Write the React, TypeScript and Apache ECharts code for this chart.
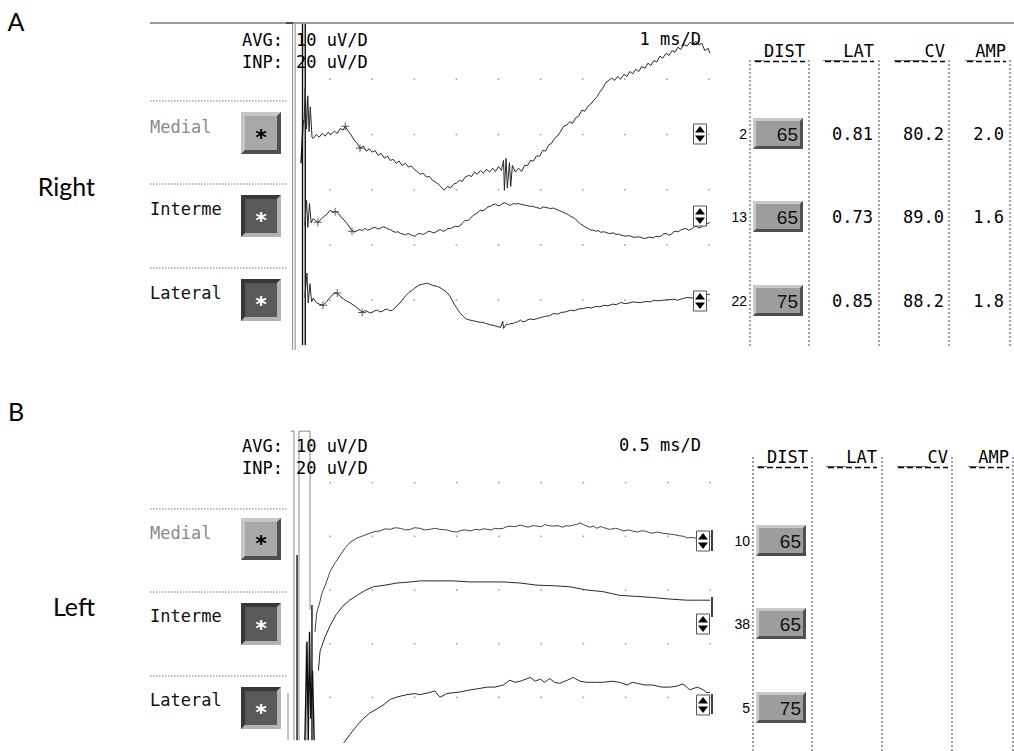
import React, { useEffect, useRef } from "react";
import * as echarts from "echarts";

// ---------------- data ----------------
const panelLetters = ["A", "B"];
const sideNames = ["Right", "Left"];
const channelNames = ["Medial", "Interme", "Lateral"];
const gainLabels = ["AVG:", "INP:"];
const gainValues = ["10 uV/D", "20 uV/D"];
const sweepLabels = ["1 ms/D", "0.5 ms/D"];
const sweepSpanMs = [10, 5]; // 10 divisions per sweep
const uvPerDiv = 10;
const tableHeaders = ["_DIST", "__LAT", "___CV", "_AMP"];

const rightIndex = [2, 13, 22];
const rightDist = [65, 65, 75];
const rightLat = ["0.81", "0.73", "0.85"];
const rightCv = ["80.2", "89.0", "88.2"];
const rightAmp = ["2.0", "1.6", "1.8"];
const leftIndex = [10, 38, 5];
const leftDist = [65, 65, 75];

// trace baselines in screen divisions (0 = bottom, 6 = top)
const rightBaselineDiv = [4, 2.5, 1];
const leftBaselineDiv = [4, 3, 1];

// traces: [time ms, amplitude uV]
const rightMedialTrace = [
  [0.38, 2.0], [0.41, 8.5], [0.44, 1.0], [0.47, 7.0], [0.5, 0.5], [0.53, 5.0], [0.57, -0.5],
  [0.6, -0.7], [0.67, 0.0], [0.74, -0.5], [0.81, 0.2], [0.88, -0.3], [0.95, 0.4], [1.02, 0.0], [1.1, 0.6],
  [1.17, 0.2], [1.24, 1.1], [1.31, 0.8], [1.36, 1.5], [1.43, 0.6], [1.5, -0.1], [1.57, -1.0], [1.64, -1.6],
  [1.71, -2.5], [1.79, -2.1], [1.86, -3.0], [1.93, -2.6], [2.0, -3.2], [2.07, -2.9], [2.14, -3.8], [2.21, -3.4],
  [2.29, -4.3], [2.36, -3.9], [2.43, -4.7], [2.5, -4.5], [2.57, -5.2], [2.64, -4.8], [2.71, -5.6], [2.79, -5.2],
  [2.86, -5.9], [2.93, -5.7], [3.0, -6.3], [3.07, -6.7], [3.14, -7.2], [3.21, -7.0], [3.29, -7.7], [3.36, -7.6],
  [3.43, -8.3], [3.5, -8.6], [3.57, -9.0], [3.64, -9.5], [3.71, -10.1], [3.79, -9.4], [3.86, -9.7], [3.93, -9.0],
  [4.0, -8.8], [4.07, -8.3], [4.14, -8.5], [4.21, -7.7], [4.29, -7.4], [4.36, -7.6], [4.43, -6.8], [4.5, -7.2],
  [4.57, -6.5], [4.64, -7.0], [4.71, -6.3], [4.79, -6.8], [4.86, -6.1], [4.93, -6.7], [5.0, -5.8], [5.07, -6.5],
  [5.12, -4.7], [5.14, -10.1], [5.18, -4.3], [5.21, -9.7], [5.26, -5.1], [5.29, -9.4], [5.33, -5.6], [5.4, -6.8],
  [5.48, -6.1], [5.55, -6.7], [5.62, -5.6], [5.69, -5.6], [5.76, -4.7], [5.83, -4.8], [5.9, -3.9], [5.98, -3.9],
  [6.05, -2.9], [6.12, -3.0], [6.19, -1.9], [6.26, -1.6], [6.33, -0.7], [6.4, -0.3], [6.48, 0.6], [6.55, 1.5],
  [6.62, 1.7], [6.69, 2.3], [6.76, 2.0], [6.83, 3.0], [6.9, 3.3], [6.98, 4.4], [7.05, 4.2], [7.12, 5.1],
  [7.19, 5.5], [7.26, 6.2], [7.33, 6.7], [7.4, 7.6], [7.48, 8.4], [7.55, 9.4], [7.62, 9.8], [7.69, 10.2],
  [7.76, 9.8], [7.83, 10.5], [7.9, 10.0], [7.98, 10.9], [8.05, 10.5], [8.12, 11.4], [8.19, 11.0], [8.26, 11.8],
  [8.33, 11.4], [8.4, 12.3], [8.48, 12.0], [8.55, 12.9], [8.62, 12.5], [8.69, 13.4], [8.76, 13.1], [8.83, 14.2],
  [8.9, 13.8], [8.98, 14.7], [9.05, 14.3], [9.12, 15.2], [9.19, 14.9], [9.26, 15.8], [9.33, 15.4], [9.4, 16.3],
  [9.48, 16.0], [9.55, 16.7], [9.62, 16.3], [9.69, 16.9], [9.76, 16.2], [9.83, 16.5], [9.9, 15.2], [9.98, 15.6],
  [10.02, 14.7],
];
const rightIntermeTrace = [
  [0.4, -1.5], [0.44, 3.1], [0.47, -1.8], [0.51, 2.5], [0.55, -1.0], [0.6, -0.2], [0.67, -0.7], [0.71, -0.9],
  [0.79, -0.3], [0.86, 0.2], [0.93, 0.6], [1.0, 1.3], [1.07, 0.9], [1.14, 1.1], [1.21, 0.6], [1.29, -0.2],
  [1.36, -0.7], [1.43, -1.4], [1.5, -2.2], [1.57, -2.7], [1.64, -2.4], [1.71, -2.2], [1.77, -2.4], [1.83, -2.0],
  [1.89, -2.3], [1.95, -2.2], [2.01, -1.9], [2.07, -1.8], [2.13, -2.1], [2.19, -2.0], [2.25, -1.7], [2.31, -1.8],
  [2.37, -2.1], [2.43, -2.2], [2.49, -2.5], [2.55, -2.7], [2.61, -2.6], [2.67, -2.9], [2.73, -3.0], [2.79, -3.2],
  [2.85, -2.9], [2.9, -3.1], [2.96, -3.3], [3.02, -3.4], [3.08, -3.0], [3.14, -2.9], [3.2, -3.1], [3.26, -2.9],
  [3.32, -2.6], [3.38, -2.5], [3.44, -2.8], [3.5, -2.7], [3.56, -2.4], [3.62, -2.2], [3.68, -2.5], [3.74, -2.4],
  [3.8, -2.0], [3.86, -2.0], [3.92, -1.8], [3.98, -1.6], [4.04, -1.7], [4.1, -1.4], [4.16, -0.9], [4.21, -0.5],
  [4.27, -0.6], [4.33, -0.2], [4.39, 0.3], [4.45, 0.6], [4.51, 0.9], [4.57, 1.3], [4.63, 1.2], [4.69, 1.5],
  [4.75, 1.9], [4.81, 2.0], [4.87, 2.3], [4.93, 2.4], [4.99, 2.1], [5.05, 2.2], [5.11, 2.6], [5.17, 2.6],
  [5.23, 2.3], [5.29, 2.2], [5.35, 2.5], [5.4, 2.4], [5.46, 2.5], [5.52, 2.4], [5.58, 2.3], [5.64, 2.2],
  [5.7, 2.1], [5.76, 2.0], [5.82, 2.0], [5.88, 1.8], [5.94, 1.7], [6.0, 1.6], [6.06, 1.9], [6.12, 1.8],
  [6.18, 1.7], [6.24, 1.6], [6.3, 1.7], [6.36, 1.5], [6.42, 1.3], [6.48, 1.1], [6.54, 0.9], [6.6, 0.7],
  [6.66, 0.5], [6.71, 0.2], [6.77, 0.0], [6.83, -0.3], [6.89, -0.8], [6.95, -1.2], [7.01, -1.5], [7.07, -1.8],
  [7.13, -2.0], [7.19, -2.3], [7.25, -2.3], [7.31, -2.5], [7.37, -2.4], [7.43, -2.7], [7.49, -2.6], [7.55, -2.7],
  [7.61, -2.9], [7.67, -2.9], [7.73, -2.8], [7.79, -3.1], [7.85, -3.0], [7.9, -3.2], [7.96, -3.3], [8.02, -3.4],
  [8.08, -3.3], [8.14, -3.4], [8.2, -3.6], [8.26, -3.6], [8.32, -3.5], [8.38, -3.6], [8.44, -3.8], [8.5, -3.8],
  [8.56, -3.6], [8.62, -3.6], [8.68, -3.7], [8.74, -3.4], [8.8, -3.5], [8.86, -3.4], [8.92, -3.0], [8.98, -2.9],
  [9.04, -3.2], [9.1, -3.1], [9.16, -2.6], [9.21, -2.5], [9.27, -2.6], [9.33, -2.3], [9.39, -2.1], [9.45, -2.0],
  [9.51, -2.3], [9.57, -2.2], [9.63, -1.8], [9.69, -1.6], [9.75, -1.9], [9.81, -1.8], [9.87, -1.4], [9.93, -1.3],
  [10.02, -0.9],
];
const rightLateralTrace = [
  [0.4, 0.5], [0.45, 4.9], [0.48, -0.5], [0.52, 3.0], [0.56, -0.3], [0.6, 0.4], [0.67, -0.4], [0.74, -0.7],
  [0.83, -0.9], [0.9, -0.4], [1.0, 0.5], [1.1, 1.3], [1.17, 1.3], [1.24, 0.7], [1.36, 0.0], [1.48, -0.5],
  [1.6, -1.1], [1.71, -1.8], [1.76, -2.2], [1.82, -1.9], [1.88, -2.0], [1.94, -2.3], [2.0, -2.2], [2.06, -1.9],
  [2.12, -1.8], [2.18, -2.1], [2.24, -2.0], [2.3, -1.7], [2.36, -1.6], [2.42, -1.9], [2.48, -1.8], [2.54, -1.4],
  [2.6, -0.9], [2.66, -0.5], [2.71, 0.0], [2.77, 0.6], [2.83, 1.1], [2.89, 1.5], [2.95, 1.8], [3.01, 2.2],
  [3.07, 2.5], [3.13, 2.8], [3.19, 2.9], [3.25, 3.0], [3.31, 3.1], [3.37, 2.9], [3.43, 2.7], [3.49, 2.6],
  [3.55, 2.5], [3.61, 2.3], [3.67, 2.0], [3.73, 1.7], [3.79, 1.3], [3.85, 0.7], [3.9, 0.0], [3.95, -0.7],
  [4.0, -1.3], [4.05, -1.9], [4.1, -2.4], [4.16, -2.9], [4.21, -3.3], [4.27, -3.5], [4.33, -3.6], [4.39, -3.7],
  [4.45, -3.8], [4.51, -3.9], [4.57, -4.0], [4.63, -4.0], [4.69, -4.2], [4.75, -4.3], [4.81, -4.5], [4.87, -4.5],
  [4.93, -4.7], [4.99, -4.8], [5.05, -4.9], [5.1, -3.8], [5.12, -5.1], [5.19, -4.3], [5.24, -4.4], [5.29, -4.2],
  [5.35, -4.2], [5.4, -4.0], [5.46, -3.9], [5.52, -3.6], [5.58, -3.9], [5.64, -3.8], [5.7, -3.5], [5.76, -3.4],
  [5.84, -3.5], [5.93, -3.3], [6.02, -3.1], [6.12, -2.9], [6.21, -2.8], [6.31, -2.4], [6.4, -2.5], [6.5, -2.2],
  [6.6, -2.1], [6.71, -1.8], [6.8, -1.9], [6.9, -1.6], [7.01, -1.5], [7.12, -1.3], [7.21, -1.4], [7.31, -1.1],
  [7.4, -1.2], [7.5, -0.9], [7.6, -1.0], [7.71, -0.7], [7.8, -0.8], [7.9, -0.4], [8.0, -0.6], [8.1, -0.5],
  [8.2, -0.3], [8.31, -0.4], [8.4, -0.4], [8.5, -0.2], [8.6, -0.3], [8.69, 0.0], [8.8, -0.1], [8.9, 0.0],
  [9.05, 0.1], [9.17, 0.2], [9.25, 0.0], [9.33, 0.2], [9.42, 0.4], [9.5, 0.5], [9.6, 0.4], [9.69, 0.7],
  [9.78, 0.6], [9.88, 0.9], [10.02, 1.1],
];

const leftMedialTrace = [
  [0.32, -17.8], [0.34, -14.3], [0.38, -12.1], [0.4, -10.7], [0.44, -9.2], [0.5, -6.5], [0.56, -4.9],
  [0.62, -3.5], [0.68, -2.1], [0.73, -1.2], [0.82, -0.3], [0.89, 0.1], [0.97, 0.6], [1.03, 0.9], [1.09, 1.0],
  [1.15, 1.4], [1.21, 1.3], [1.27, 1.6], [1.33, 1.5], [1.39, 1.2], [1.45, 1.3], [1.5, 1.6], [1.56, 1.5],
  [1.62, 1.2], [1.68, 1.3], [1.74, 1.5], [1.8, 1.3], [1.88, 1.2], [1.94, 0.9], [2.0, 0.8], [2.05, 1.1],
  [2.1, 1.2], [2.16, 1.0], [2.22, 1.3], [2.27, 1.2], [2.32, 1.4], [2.36, 1.3], [2.41, 1.2], [2.45, 1.5],
  [2.5, 1.4], [2.55, 1.5], [2.59, 1.8], [2.63, 1.9], [2.69, 1.8], [2.75, 2.1], [2.8, 1.9], [2.84, 1.7],
  [2.9, 2.0], [2.95, 1.9], [3.0, 1.8], [3.04, 2.2], [3.09, 2.0], [3.14, 1.9], [3.2, 2.0], [3.25, 1.7],
  [3.3, 2.0], [3.34, 1.9], [3.38, 2.1], [3.42, 2.2], [3.46, 2.5], [3.5, 2.2], [3.54, 1.9], [3.58, 1.7],
  [3.62, 1.9], [3.66, 1.5], [3.7, 1.8], [3.73, 1.7], [3.78, 1.4], [3.82, 1.3], [3.88, 1.5], [3.93, 1.3],
  [3.98, 1.0], [4.03, 1.2], [4.08, 1.0], [4.14, 0.8], [4.18, 1.0], [4.23, 1.0], [4.28, 0.7], [4.32, 0.6],
  [4.38, 0.8], [4.43, 0.6], [4.48, 0.5], [4.53, 0.4], [4.58, 0.3], [4.64, 0.1], [4.69, 0.0], [4.73, -0.3],
  [4.79, -0.2], [4.85, -0.4], [4.9, -0.3], [4.94, -0.3], [5.0, -0.4],
];
const leftIntermeTrace = [
  [0.36, -15.0], [0.38, -11.4], [0.44, -8.7], [0.5, -6.6], [0.57, -4.6], [0.65, -3.0], [0.73, -1.9],
  [0.82, -1.0], [0.91, -0.1], [1.01, 0.6], [1.15, 0.9], [1.29, 1.3], [1.45, 1.5], [1.56, 1.7], [1.77, 1.7],
  [1.95, 1.7], [2.16, 1.5], [2.36, 1.5], [2.55, 1.5], [2.75, 1.3], [2.95, 0.9], [3.14, 0.8], [3.34, 0.6],
  [3.54, 0.0], [3.73, -0.3], [3.93, -1.0], [4.14, -1.2], [4.32, -1.4], [4.53, -1.7], [4.73, -1.9],
  [4.88, -1.9], [5.0, -1.9],
];
const leftLateralTrace = [
  [0.66, -8.5], [0.73, -7.0], [0.81, -5.4], [0.89, -4.0], [0.97, -2.9], [1.05, -2.2], [1.14, -1.3],
  [1.21, -0.4], [1.3, 0.1], [1.41, 0.5], [1.5, 0.7], [1.56, 0.5], [1.68, 0.9], [1.74, 1.2], [1.8, 0.0],
  [1.88, 0.7], [1.98, 0.9], [2.04, 1.0], [2.16, 1.4], [2.25, 1.6], [2.36, 1.9], [2.45, 1.9], [2.55, 2.3],
  [2.63, 3.2], [2.69, 2.8], [2.75, 3.0], [2.87, 3.7], [2.93, 3.0], [2.99, 3.4], [3.04, 2.8], [3.1, 3.5],
  [3.16, 2.8], [3.22, 2.6], [3.31, 3.2], [3.38, 3.7], [3.46, 3.0], [3.54, 2.8], [3.64, 2.8], [3.73, 2.8],
  [3.84, 3.0], [3.93, 2.8], [4.02, 2.3], [4.08, 2.8], [4.14, 2.6], [4.23, 2.3], [4.32, 2.3], [4.43, 1.9],
  [4.53, 1.9], [4.61, 2.1], [4.68, 2.5], [4.76, 1.4], [4.85, 1.9], [4.92, 1.4], [4.96, 0.9], [5.0, 0.9],
];

// latency cursors on the right-side traces: [time ms, uV]
const rightCursors = [
  [[1.36, 1.5], [1.71, -2.5]],
  [[0.71, -0.9], [1.12, 1.0], [1.52, -2.5]],
  [[0.83, -0.9], [1.17, 1.3], [1.76, -2.2]],
];

// stimulus artefact / cursor segments: [time ms, division]
const rightStimGray = [
  [[0.11, 6], [0.11, 0.1]],
  [[0.17, 6], [0.17, 0.1]],
];
const rightStimBlack = [
  [[0.345, 6], [0.345, 0.19]],
  [[0.41, 6], [0.41, 0.19]],
  [[0.36, 4.26], [0.31, 3.48]],
];
const leftStimGray = [
  [[0.03, 5.96], [0.071, 5.96], [0.071, 0.2]],
  [[0.13, 0.2], [0.13, 5.96], [0.261, 5.96], [0.261, 2.63]],
  [[0.0, 1.08], [0.0, 0.2]],
  [[0.215, 2.0], [0.215, 0.2]],
];
const leftStimBlack = [
  [[0.107, 3.65], [0.107, 0.2]],
  [[0.284, 2.72], [0.284, 0.2]],
  [[0.2, 0.2], [0.225, 2.04], [0.24, 0.2], [0.255, 2.22], [0.27, 0.6], [0.29, 1.5], [0.31, 0.2]],
];

// ---------------- layout ----------------
const MONO = "DejaVu Sans Mono";
const SANS = "Liberation Sans";
const GRIDS = [
  { left: 288, top: 24, width: 421, height: 331.5 },
  { left: 288, top: 429, width: 422, height: 334.5 },
];
const PANELS = [
  {
    oy: 0, tx: 0, letterY: 21, sideY: 186, tableTop: 60, tableBottom: 346,
    rows: [133, 216, 300], btnTops: [112, 195, 279], seps: [101, 184, 268], labelYs: [127, 209, 293],
    spinX: 700, spinYs: [134, 216, 301],
  },
  {
    oy: 406, tx: 3, letterY: 411, sideY: 606, tableTop: 457, tableBottom: 751,
    rows: [540, 623, 707], btnTops: [518, 603, 687], seps: [509, 592, 676], labelYs: [533, 616, 700],
    spinX: 703, spinYs: [541, 624, 705],
  },
];

function txt(x: number, y: number, text: string, font: string, fill = "#000", align = "left", va = "middle") {
  return {
    type: "text", x, y, silent: true, z: 10,
    style: { text, font, fill, align, verticalAlign: va, textAlign: align, textVerticalAlign: va },
  };
}
function line(x1: number, y1: number, x2: number, y2: number, stroke: string, lineWidth = 1, lineDash?: number[]) {
  return { type: "line", silent: true, z: 5, shape: { x1, y1, x2, y2 }, style: { stroke, lineWidth, lineDash } };
}
function bevel(x: number, y: number, w: number, h: number, fill: string, tl: string, br: string, bw: number) {
  return [
    { type: "rect", silent: true, z: 5, shape: { x, y, width: w, height: h }, style: { fill } },
    {
      type: "polygon", silent: true, z: 6,
      shape: { points: [[x, y], [x + w, y], [x + w - bw, y + bw], [x + bw, y + bw], [x + bw, y + h - bw], [x, y + h]] },
      style: { fill: tl },
    },
    {
      type: "polygon", silent: true, z: 6,
      shape: { points: [[x + w, y], [x + w, y + h], [x, y + h], [x + bw, y + h - bw], [x + w - bw, y + h - bw], [x + w - bw, y + bw]] },
      style: { fill: br },
    },
  ];
}
function spin(cx: number, cy: number) {
  return [
    { type: "rect", silent: true, z: 7, shape: { x: cx - 6.5, y: cy - 10, width: 13, height: 20 }, style: { fill: "#fff", stroke: "#555", lineWidth: 1 } },
    { type: "polygon", silent: true, z: 8, shape: { points: [[cx - 5, cy - 1.5], [cx + 5, cy - 1.5], [cx, cy - 8]] }, style: { fill: "#000" } },
    { type: "polygon", silent: true, z: 8, shape: { points: [[cx - 5, cy + 1.5], [cx + 5, cy + 1.5], [cx, cy + 8]] }, style: { fill: "#000" } },
  ];
}

function panelGraphics(p: number) {
  const L = PANELS[p];
  const g: any[] = [];
  g.push(txt(16, L.letterY, panelLetters[p], "25px Lato", "#000", "center"));
  g.push(txt(95, L.sideY, sideNames[p], "25px Lato", "#000", "right"));
  g.push(txt(283, 40 + L.oy, gainLabels[0], `17px ${MONO}`, "#000", "right"));
  g.push(txt(296, 40 + L.oy, gainValues[0], `17px ${MONO}`, "#000", "left"));
  g.push(txt(283, 62 + L.oy, gainLabels[1], `17px ${MONO}`, "#000", "right"));
  g.push(txt(296, 62 + L.oy, gainValues[1], `17px ${MONO}`, "#000", "left"));
  g.push(txt(701, 39 + L.oy, sweepLabels[p], `17px ${MONO}`, "#000", "right"));

  // left column
  L.seps.forEach((y) => g.push(line(150, y, 287, y, "#777", 1, [1.5, 1.5])));
  channelNames.forEach((name, c) => {
    g.push(txt(150, L.labelYs[c], name, `17px ${MONO}`, c === 0 ? "#8a8a8a" : "#111", "left"));
    const top = L.btnTops[c];
    if (c === 0) {
      g.push(...bevel(241, top, 40, 42, "#a8a8a8", "#c6c6c6", "#4e4e4e", 4));
      g.push(txt(261, top + 25, "*", `bold 22px ${MONO}`, "#000", "center"));
    } else {
      g.push(...bevel(241, top, 40, 42, "#595959", "#383838", "#b3b3b3", 4));
      g.push(txt(261, top + 25, "*", `bold 22px ${MONO}`, "#fff", "center"));
    }
  });

  // table
  const tx = L.tx;
  const colLines = [750, 809, 879, 949, 1010];
  colLines.forEach((x) => g.push(line(x + tx, L.tableTop, x + tx, L.tableBottom, "#444", 1, [2, 2])));
  const headRight = [805, 874, 945, 1006];
  const headStart = [755, 825, 895, 967];
  tableHeaders.forEach((h, i) => {
    g.push(txt(headRight[i] + tx, 51 + L.oy, h, `17px ${MONO}`, "#000", "right"));
    g.push(line(headStart[i] + tx, 61.5 + L.oy, headRight[i] + tx, 61.5 + L.oy, "#000", 1.6, [6, 3]));
  });
  const idx = p === 0 ? rightIndex : leftIndex;
  const dist = p === 0 ? rightDist : leftDist;
  L.rows.forEach((y, r) => {
    g.push(txt(747 + tx, y + 1, String(idx[r]), `14px ${SANS}`, "#000", "right"));
    g.push(...bevel(753 + tx, y - 15, 50, 31, "#9d9d9d", "#c9c9c9", "#4f4f4f", 3));
    g.push(txt(798 + tx, y + 1, String(dist[r]), `19px ${SANS}`, "#111", "right"));
    if (p === 0) {
      g.push(txt(873, y + 1, rightLat[r], `17px ${MONO}`, "#000", "right"));
      g.push(txt(944, y + 1, rightCv[r], `17px ${MONO}`, "#000", "right"));
      g.push(txt(1004, y + 1, rightAmp[r], `17px ${MONO}`, "#000", "right"));
    }
  });
  L.spinYs.forEach((y) => g.push(...spin(L.spinX, y)));
  if (p === 0) {
    g.push(line(150, 23, 1014, 23, "#9a9a9a", 2));
    g.push(line(286, 23, 293, 23, "#000", 1));
  } else {
    [[530, 551], [597, 617], [694, 714]].forEach(([a, b]) => g.push(line(712, a, 712, b, "#000", 1.5)));
  }
  return g;
}

function buildOption() {
  const panelTraces = [
    [rightMedialTrace, rightIntermeTrace, rightLateralTrace],
    [leftMedialTrace, leftIntermeTrace, leftLateralTrace],
  ];
  const panelBaselines = [rightBaselineDiv, leftBaselineDiv];
  const stimGray = [rightStimGray, leftStimGray];
  const stimBlack = [rightStimBlack, leftStimBlack];
  const series: any[] = [];
  [0, 1].forEach((p) => {
    const dots: number[][] = [];
    for (let i = 1; i <= 10; i++) for (let j = 1; j <= 5; j++) dots.push([(i * sweepSpanMs[p]) / 10, j]);
    series.push({
      type: "scatter", xAxisIndex: p, yAxisIndex: p, data: dots, symbol: "rect", symbolSize: 1.6,
      itemStyle: { color: "#8c8c8c" }, silent: true, z: 1,
    });
    series.push({
      type: "lines", coordinateSystem: "cartesian2d", xAxisIndex: p, yAxisIndex: p, polyline: true,
      data: stimGray[p].map((s) => ({ coords: s })), lineStyle: { color: "#8a8a8a", width: 1, opacity: 1 },
      silent: true, z: 2,
    });
    series.push({
      type: "lines", coordinateSystem: "cartesian2d", xAxisIndex: p, yAxisIndex: p, polyline: true,
      data: stimBlack[p].map((s) => ({ coords: s })), lineStyle: { color: "#111", width: 1.4, opacity: 1 },
      silent: true, z: 2,
    });
    panelTraces[p].forEach((tr, c) => {
      const base = panelBaselines[p][c];
      series.push({
        type: "line", xAxisIndex: p, yAxisIndex: p, showSymbol: false, silent: true, z: 3,
        data: tr.map(([t, uv]) => [t, base + uv / uvPerDiv]),
        lineStyle: { color: p === 1 && c === 0 ? "#444" : "#2a2a2a", width: 1 },
      });
      if (p === 0) {
        series.push({
          type: "scatter", xAxisIndex: 0, yAxisIndex: 0, silent: true, z: 4,
          data: rightCursors[c].map(([t, uv]) => [t, base + uv / uvPerDiv]),
          symbol: "path://M0 4.4L10 4.4L10 5.6L0 5.6Z M4.4 0L5.6 0L5.6 10L4.4 10Z",
          symbolSize: 8, itemStyle: { color: "#333" },
        });
      }
    });
  });
  return {
    animation: false,
    backgroundColor: "#fff",
    grid: GRIDS.map((g) => ({ ...g, show: false, containLabel: false })),
    xAxis: sweepSpanMs.map((span, i) => ({ type: "value", gridIndex: i, min: 0, max: span, show: false })),
    yAxis: [0, 1].map((i) => ({ type: "value", gridIndex: i, min: 0, max: 6, show: false })),
    series,
    graphic: { elements: [...panelGraphics(0), ...panelGraphics(1)] },
  };
}

export default function App() {
  const ref = useRef<HTMLDivElement>(null);
  useEffect(() => {
    if (!ref.current) return;
    const chart = echarts.init(ref.current, undefined, { renderer: "svg" });
    chart.setOption(buildOption() as any);
    return () => chart.dispose();
  }, []);
  return (
    <div
      ref={ref}
      style={{ position: "absolute", left: 0, top: 0, width: 1014, height: 751, background: "#fff" }}
    />
  );
}
